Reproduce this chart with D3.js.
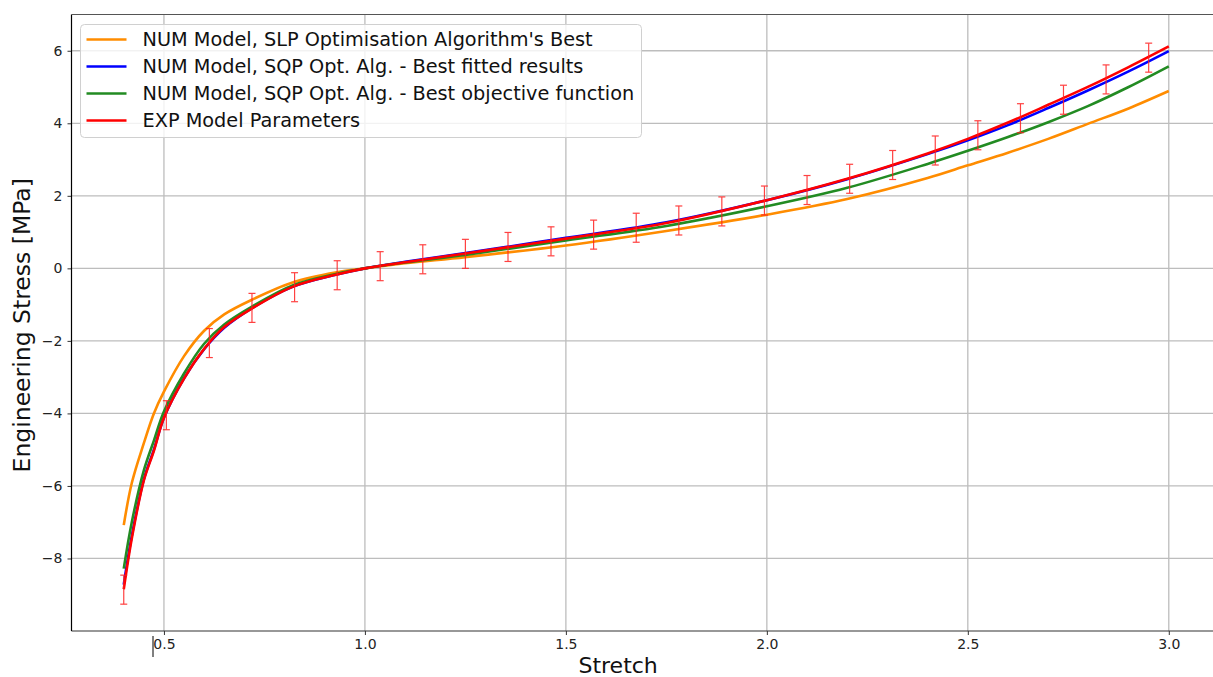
<!DOCTYPE html>
<html>
<head>
<meta charset="utf-8">
<script src="https://cdn.jsdelivr.net/npm/d3@7"></script>
<style>
  body { margin: 0; background: #fff; }
  text { font-family: "DejaVu Sans", sans-serif; }
</style>
</head>
<body>
<script>
const width = 1213;
const height = 677;

// stretch values the curves were read at
const stretch = [0.40, 0.42, 0.45, 0.475, 0.50, 0.55, 0.60, 0.65, 0.72, 0.82, 0.93, 1.0,
                 1.1, 1.25, 1.5, 1.75, 2.0, 2.2, 2.4, 2.5, 2.6, 2.7, 2.8, 2.9, 3.0];

// model curves (engineering stress, MPa)
const slpBest = [-7.08, -5.92, -4.82, -4.0, -3.4, -2.42, -1.72, -1.27, -0.86, -0.39, -0.11, 0,
                 0.14, 0.31, 0.63, 1.03, 1.48, 1.91, 2.49, 2.84, 3.19, 3.57, 3.99, 4.41, 4.89];
const sqpFitted = [-8.72, -7.38, -5.82, -5.0, -4.12, -3.03, -2.23, -1.64, -1.09, -0.51, -0.17, 0,
                   0.18, 0.42, 0.84, 1.27, 1.88, 2.46, 3.15, 3.53, 3.95, 4.42, 4.91, 5.43, 5.99];
const sqpObjective = [-8.28, -7.0, -5.57, -4.75, -3.95, -2.9, -2.08, -1.55, -1.05, -0.47, -0.15, 0,
                      0.16, 0.37, 0.77, 1.17, 1.71, 2.22, 2.88, 3.24, 3.62, 4.03, 4.48, 5.0, 5.57];
const expModel = [-8.85, -7.45, -5.85, -5.03, -4.12, -3.04, -2.22, -1.62, -1.1, -0.51, -0.17, 0,
                  0.17, 0.41, 0.82, 1.25, 1.88, 2.47, 3.17, 3.57, 4.02, 4.51, 5.01, 5.55, 6.12];

// experimental points with error bars
const expStretch = [0.400, 0.506, 0.613, 0.719, 0.825, 0.931, 1.038, 1.144, 1.250, 1.356,
                    1.463, 1.569, 1.675, 1.781, 1.888, 1.994, 2.100, 2.206, 2.313, 2.419,
                    2.525, 2.631, 2.738, 2.844, 2.950];
const expStress = [-8.86, -4.05, -2.06, -1.09, -0.52, -0.19, 0.06, 0.25, 0.40, 0.59,
                   0.745, 0.93, 1.12, 1.32, 1.57, 1.87, 2.16, 2.47, 2.85, 3.25,
                   3.67, 4.14, 4.65, 5.21, 5.81];
const expError = 0.4;

const xTicks = [0.5, 1.0, 1.5, 2.0, 2.5, 3.0];
const yTicks = [-8, -6, -4, -2, 0, 2, 4, 6];

const series = [
  { name: "NUM Model, SLP Optimisation Algorithm's Best", values: slpBest, color: "#ff8c00" },
  { name: "NUM Model, SQP Opt. Alg. - Best fitted results", values: sqpFitted, color: "#0000ff" },
  { name: "NUM Model, SQP Opt. Alg. - Best objective function", values: sqpObjective, color: "#228b22" },
  { name: "EXP Model Parameters", values: expModel, color: "#ff0000" }
];

const plot = { left: 71.5, right: 1214, top: 14.5, bottom: 631 };

var svg = d3.select("body")
  .append("svg")
  .attr("width", width)
  .attr("height", height);

var x = d3.scaleLinear().domain([0.27, 3.1125]).range([plot.left, plot.right]);
var y = d3.scaleLinear().domain([-10, 7]).range([plot.bottom, plot.top]);

// grid
svg.append("g").selectAll("line")
  .data(xTicks).enter().append("line")
  .attr("x1", d => x(d)).attr("x2", d => x(d))
  .attr("y1", plot.top).attr("y2", plot.bottom)
  .attr("stroke", "#bdbdbd").attr("stroke-width", 1.3);

svg.append("g").selectAll("line")
  .data(yTicks).enter().append("line")
  .attr("x1", plot.left).attr("x2", plot.right)
  .attr("y1", d => y(d)).attr("y2", d => y(d))
  .attr("stroke", "#bdbdbd").attr("stroke-width", 1.3);

// axes
var xAxis = d3.axisBottom(x).tickValues(xTicks).tickFormat(d3.format(".1f")).tickSize(4).tickPadding(4);
var yAxis = d3.axisLeft(y).tickValues(yTicks).tickFormat(d => d < 0 ? "\u2212" + Math.abs(d) : d).tickSize(4).tickPadding(5);

var gx = svg.append("g").attr("transform", "translate(0," + plot.bottom + ")").call(xAxis);
var gy = svg.append("g").attr("transform", "translate(" + plot.left + ",0)").call(yAxis);

[gx, gy].forEach(function(g) {
  g.select(".domain").remove();
  g.selectAll("text").attr("font-size", 14).attr("fill", "#222").style("font-family", "DejaVu Sans");
  g.selectAll("line").attr("stroke", "#333");
});

// spines
svg.append("line").attr("x1", plot.left).attr("x2", plot.right)
  .attr("y1", plot.bottom).attr("y2", plot.bottom).attr("stroke", "#333").attr("stroke-width", 1.2);
svg.append("line").attr("x1", plot.left).attr("x2", plot.left)
  .attr("y1", plot.top).attr("y2", plot.bottom).attr("stroke", "#000").attr("stroke-width", 1.2);
svg.append("line").attr("x1", plot.left).attr("x2", plot.right)
  .attr("y1", plot.top).attr("y2", plot.top).attr("stroke", "#555").attr("stroke-width", 1.2);

// stray mark under the axis
svg.append("line").attr("x1", 153).attr("x2", 153).attr("y1", 636).attr("y2", 657)
  .attr("stroke", "#000").attr("stroke-width", 1);

// axis labels
svg.append("text")
  .attr("x", x(1.63)).attr("y", 673)
  .attr("text-anchor", "middle")
  .attr("font-size", 22).attr("fill", "#111")
  .text("Stretch");

svg.append("text")
  .attr("transform", "translate(30," + y(-1.57) + ") rotate(-90)")
  .attr("text-anchor", "middle")
  .attr("font-size", 23.5).attr("fill", "#111")
  .text("Engineering Stress [MPa]");

// curves
var line = d3.line()
  .x(d => x(d[0]))
  .y(d => y(d[1]))
  .curve(d3.curveCatmullRom.alpha(0.5));

svg.append("g").selectAll("path")
  .data(series).enter().append("path")
  .attr("d", s => line(stretch.map((v, i) => [v, s.values[i]])))
  .attr("fill", "none")
  .attr("stroke", s => s.color)
  .attr("stroke-width", 2.6);

// error bars
var bars = svg.append("g").attr("stroke", "#ff2020").attr("stroke-width", 1.2).attr("opacity", 0.85);
var expPoints = expStretch.map((v, i) => [v, expStress[i]]);
bars.selectAll(".eb").data(expPoints).enter().append("line")
  .attr("x1", d => x(d[0])).attr("x2", d => x(d[0]))
  .attr("y1", d => y(d[1] - expError)).attr("y2", d => y(d[1] + expError));
bars.selectAll(".capTop").data(expPoints).enter().append("line")
  .attr("x1", d => x(d[0]) - 3.5).attr("x2", d => x(d[0]) + 3.5)
  .attr("y1", d => y(d[1] + expError)).attr("y2", d => y(d[1] + expError));
bars.selectAll(".capBottom").data(expPoints).enter().append("line")
  .attr("x1", d => x(d[0]) - 3.5).attr("x2", d => x(d[0]) + 3.5)
  .attr("y1", d => y(d[1] - expError)).attr("y2", d => y(d[1] - expError));

// legend
var legend = svg.append("g").attr("transform", "translate(80.5,24.5)");
legend.append("rect")
  .attr("width", 561).attr("height", 113).attr("rx", 4)
  .attr("fill", "#fff").attr("fill-opacity", 0.8)
  .attr("stroke", "#d0d0d0").attr("stroke-width", 1);

var items = legend.selectAll(".item").data(series).enter().append("g")
  .attr("transform", (d, i) => "translate(0," + (15 + i * 27) + ")");
items.append("line")
  .attr("x1", 6).attr("x2", 46)
  .attr("stroke", d => d.color).attr("stroke-width", 2.6);
items.append("text")
  .attr("x", 62).attr("dy", "0.35em")
  .attr("font-size", 19.3).attr("fill", "#111")
  .text(d => d.name);
</script>
</body>
</html>
